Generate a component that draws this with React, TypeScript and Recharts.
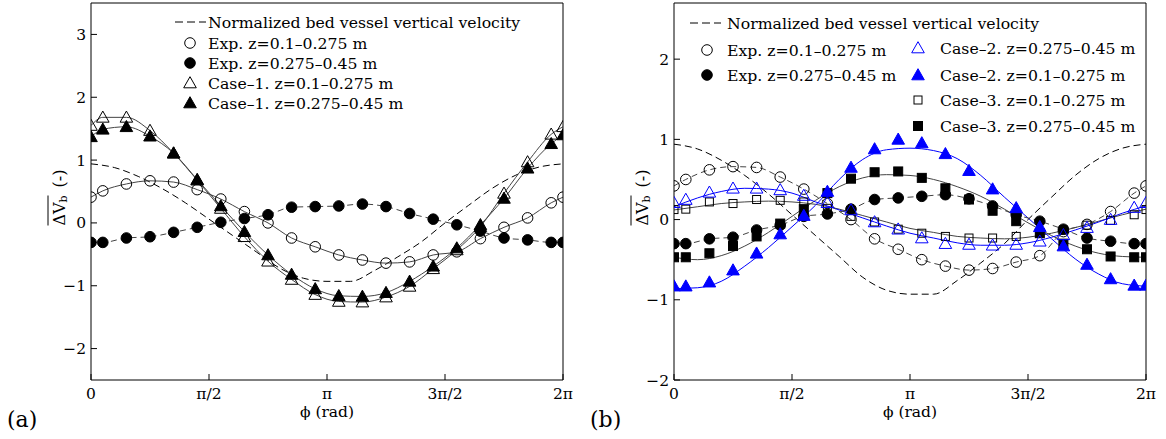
import React from 'react';
import { LineChart, Line, XAxis, YAxis, Legend } from 'recharts';

const PI = Math.PI;
const FONT = '"DejaVu Serif", serif';

// phases of the markers, in steps of pi/20
const markSteps = [0, 1, 3, 5, 7, 9, 11, 13, 15, 17, 19, 21, 23, 25, 27, 29, 31, 33, 35, 37, 39, 40];
// phases of the fitted curves, in steps of pi/10
const fitSteps = [0, 1, 2, 3, 4, 5, 6, 7, 8, 9, 10, 11, 12, 13, 14, 15, 16, 17, 18, 19, 20];

const phiTicks = [0, PI / 2, PI, (3 * PI) / 2, 2 * PI];
const phiTickLabels = ['0', 'π/2', 'π', '3π/2', '2π'];
const yTicksA = [-2, -1, 0, 1, 2, 3];
const yTicksB = [-2, -1, 0, 1, 2];

// normalized bed vessel vertical velocity (on the fit grid)
const normVel = [0.94, 0.88, 0.74, 0.55, 0.32, 0.06, -0.2, -0.46, -0.72, -0.88, -0.93, -0.93, -0.76, -0.54, -0.3, 0.0, 0.28, 0.55, 0.76, 0.89, 0.94];

// panel (a)
const expOpenA = [0.41, 0.51, 0.62, 0.67, 0.65, 0.53, 0.38, 0.18, 0.0, -0.24, -0.38, -0.51, -0.59, -0.64, -0.62, -0.51, -0.46, -0.25, -0.07, 0.08, 0.32, 0.41];
const expFilledA = [-0.31, -0.31, -0.24, -0.22, -0.15, -0.07, 0.01, 0.07, 0.13, 0.25, 0.26, 0.27, 0.3, 0.26, 0.15, 0.06, -0.03, -0.13, -0.24, -0.27, -0.31, -0.31];
const case1OpenA = [1.55, 1.68, 1.68, 1.47, 1.11, 0.68, 0.23, -0.22, -0.61, -0.9, -1.14, -1.25, -1.26, -1.18, -1.01, -0.73, -0.43, -0.06, 0.47, 0.97, 1.41, 1.53];
const case1FilledA = [1.37, 1.49, 1.53, 1.38, 1.11, 0.69, 0.27, -0.14, -0.51, -0.82, -1.05, -1.16, -1.17, -1.11, -0.93, -0.69, -0.4, -0.03, 0.39, 0.87, 1.26, 1.4];

// panel (b)
const expOpenB = [0.42, 0.5, 0.62, 0.66, 0.65, 0.53, 0.38, 0.2, 0.0, -0.24, -0.37, -0.5, -0.58, -0.63, -0.61, -0.53, -0.45, -0.15, -0.06, 0.1, 0.33, 0.42];
const expFilledB = [-0.3, -0.3, -0.24, -0.22, -0.13, -0.07, 0.04, 0.07, 0.13, 0.25, 0.27, 0.29, 0.31, 0.26, 0.17, 0.06, -0.02, -0.12, -0.23, -0.27, -0.3, -0.3];
const case2OpenB = [0.21, 0.25, 0.34, 0.39, 0.39, 0.37, 0.3, 0.21, 0.12, -0.03, -0.12, -0.23, -0.3, -0.31, -0.32, -0.31, -0.27, -0.19, -0.1, 0.0, 0.15, 0.21];
const case2FilledB = [-0.83, -0.83, -0.78, -0.63, -0.42, -0.18, 0.05, 0.35, 0.65, 0.88, 1.0, 0.955, 0.82, 0.61, 0.38, 0.146, -0.09, -0.33, -0.56, -0.74, -0.82, -0.82];
const case3OpenB = [0.125, 0.13, 0.22, 0.2, 0.25, 0.24, 0.22, 0.14, 0.04, -0.03, -0.12, -0.17, -0.21, -0.23, -0.23, -0.21, -0.17, -0.13, -0.07, -0.01, 0.06, 0.125];
const case3FilledB = [-0.47, -0.47, -0.42, -0.33, -0.21, -0.05, 0.13, 0.33, 0.51, 0.59, 0.6, 0.52, 0.39, 0.25, 0.11, -0.02, -0.17, -0.3, -0.37, -0.46, -0.47, -0.47];

const case2OpenFit = [0.16, 0.27, 0.35, 0.39, 0.38, 0.33, 0.22, 0.12, 0.02, -0.08, -0.17, -0.23, -0.29, -0.32, -0.32, -0.29, -0.22, -0.13, -0.03, 0.08, 0.17];
const case2FilledFit = [-0.86, -0.85, -0.77, -0.58, -0.35, -0.09, 0.18, 0.5, 0.75, 0.87, 0.89, 0.86, 0.76, 0.55, 0.28, 0.02, -0.24, -0.49, -0.68, -0.8, -0.83];
const case3OpenFit = [0.12, 0.16, 0.2, 0.22, 0.23, 0.22, 0.19, 0.13, 0.05, -0.03, -0.11, -0.16, -0.21, -0.23, -0.24, -0.22, -0.17, -0.1, -0.02, 0.06, 0.13];
const case3FilledFit = [-0.47, -0.5, -0.45, -0.33, -0.16, 0.04, 0.24, 0.41, 0.52, 0.56, 0.55, 0.5, 0.41, 0.29, 0.13, -0.04, -0.2, -0.33, -0.42, -0.46, -0.47];

const markPhi = markSteps.map((s) => (s * PI) / 20);
const fitPhi = fitSteps.map((s) => (s * PI) / 10);
const pts = (xs: number[], ys: number[]) => xs.map((x, i) => ({ x, y: ys[i] }));

const BLUE = '#0000ff';
const GREY = '#444';

type Shape = 'circle' | 'triangle' | 'square';

function Glyph({ shape, x, y, color, filled }: { shape: Shape; x: number; y: number; color: string; filled: boolean }) {
  const fill = filled ? color : 'none';
  if (shape === 'circle') {
    return <circle cx={x} cy={y} r={5.3} fill={fill} stroke={color} strokeWidth={1} />;
  }
  if (shape === 'triangle') {
    return (
      <polygon
        points={`${x},${y - 6.3} ${x - 6.3},${y + 4.8} ${x + 6.3},${y + 4.8}`}
        fill={fill}
        stroke={color}
        strokeWidth={1}
      />
    );
  }
  const s = filled ? 4.5 : 4;
  return <rect x={x - s} y={y - s} width={2 * s} height={2 * s} fill={fill} stroke={color} strokeWidth={1} />;
}

const marker = (shape: Shape, color: string, filled: boolean) => (p: any) => {
  const { cx, cy, index } = p;
  if (cx == null || cy == null) return <g key={`e${index}`} />;
  return <Glyph key={`m${index}`} shape={shape} x={cx} y={cy} color={color} filled={filled} />;
};

const tickLabel = (v: number) => {
  const i = phiTicks.findIndex((t) => Math.abs(t - v) < 1e-6);
  return i >= 0 ? phiTickLabels[i] : '';
};

function YLabel(props: any) {
  const vb = props.viewBox || { x: 0, y: 3, width: 91, height: 377 };
  const cx = 59;
  const cy = vb.y + vb.height / 2;
  return (
    <g transform={`translate(${cx},${cy}) rotate(-90)`}>
      <text x={-34} y={0} dominantBaseline="central" fontFamily={FONT} fontSize={16} fill="#000">
        ΔV
        <tspan fontSize={11} dy={4}>b</tspan>
      </text>
      <line x1={-34} x2={-4} y1={-11} y2={-11} stroke="#000" strokeWidth={1} />
      <text x={4} y={0} dominantBaseline="central" fontFamily={FONT} fontSize={16} fill="#000">
        (-)
      </text>
    </g>
  );
}

function XLabel(props: any) {
  const vb = props.viewBox || { x: 91, y: 380, width: 472, height: 59 };
  return (
    <g>
      <text x={vb.x + vb.width / 2} y={vb.y + 32} textAnchor="middle" dominantBaseline="central" fontFamily={FONT} fontSize={15.5} fill="#000">
        ϕ (rad)
      </text>
      <text x={7} y={vb.y + 39} dominantBaseline="central" fontFamily={FONT} fontSize={22} fill="#000">
        {props.tag}
      </text>
    </g>
  );
}

type Item = { label: string; x: number; y: number; shape?: Shape; filled?: boolean; color?: string; dash?: boolean; textX: number };

function LegendBox({ items, width, height }: { items: Item[]; width: number; height: number }) {
  return (
    <svg width={width} height={height} style={{ display: 'block' }}>
      {items.map((it, i) => (
        <g key={i}>
          {it.dash ? (
            <line x1={it.x - 15} x2={it.x + 16} y1={it.y} y2={it.y} stroke="#000" strokeDasharray="8 4" strokeWidth={1} />
          ) : (
            <Glyph shape={it.shape as Shape} x={it.x} y={it.y} color={it.color || '#000'} filled={!!it.filled} />
          )}
          <text x={it.textX} y={it.y} dominantBaseline="central" fontFamily={FONT} fontSize={15.7} fill="#000">
            {it.label}
          </text>
        </g>
      ))}
    </svg>
  );
}

const legendA: Item[] = [
  { label: 'Normalized bed vessel vertical velocity', x: 22, y: 14, dash: true, textX: 40 },
  { label: 'Exp. z=0.1–0.275 m', x: 22, y: 35, shape: 'circle', textX: 40 },
  { label: 'Exp. z=0.275–0.45 m', x: 22, y: 55, shape: 'circle', filled: true, textX: 40 },
  { label: 'Case–1. z=0.1–0.275 m', x: 22, y: 75, shape: 'triangle', textX: 40 },
  { label: 'Case–1. z=0.275–0.45 m', x: 22, y: 95, shape: 'triangle', filled: true, textX: 40 },
];

const legendB: Item[] = [
  { label: 'Normalized bed vessel vertical velocity', x: 25, y: 15, dash: true, textX: 47 },
  { label: 'Exp. z=0.1–0.275 m', x: 27, y: 42, shape: 'circle', textX: 47 },
  { label: 'Exp. z=0.275–0.45 m', x: 27, y: 67, shape: 'circle', filled: true, textX: 47 },
  { label: 'Case–2. z=0.275–0.45 m', x: 238, y: 40, shape: 'triangle', color: BLUE, textX: 260 },
  { label: 'Case–2. z=0.1–0.275 m', x: 238, y: 67, shape: 'triangle', color: BLUE, filled: true, textX: 260 },
  { label: 'Case–3. z=0.1–0.275 m', x: 238, y: 92, shape: 'square', textX: 260 },
  { label: 'Case–3. z=0.275–0.45 m', x: 238, y: 118, shape: 'square', filled: true, textX: 260 },
];

const tickStyle = { fill: '#000', fontSize: 15.5, fontFamily: FONT };

const W = 583;
const H = 439;
const margin = { top: 2, right: 19, bottom: 0, left: 0 };

function frame(yDomain: [number, number], yTicks: number[], tag: string) {
  return [
    <XAxis
      key="xb"
      xAxisId={0}
      type="number"
      dataKey="x"
      domain={[0, 2 * PI]}
      ticks={phiTicks}
      tickFormatter={tickLabel}
      allowDataOverflow
      height={59}
      tickSize={-6}
      tickMargin={14}
      tick={tickStyle}
      axisLine={{ stroke: '#000' }}
      tickLine={{ stroke: '#000' }}
      label={<XLabel tag={tag} />}
    />,
    <XAxis
      key="xt"
      xAxisId="top"
      orientation="top"
      type="number"
      dataKey="x"
      domain={[0, 2 * PI]}
      ticks={phiTicks}
      allowDataOverflow
      height={1}
      tickSize={-6}
      tick={false}
      axisLine={{ stroke: '#000' }}
      tickLine={{ stroke: '#000' }}
    />,
    <YAxis
      key="yl"
      yAxisId={0}
      type="number"
      domain={yDomain}
      ticks={yTicks}
      allowDataOverflow
      width={91}
      tickSize={-6}
      tickMargin={11}
      tick={tickStyle}
      tickFormatter={(v: number) => (v < 0 ? `−${Math.abs(v)}` : `${v}`)}
      axisLine={{ stroke: '#000' }}
      tickLine={{ stroke: '#000' }}
      label={<YLabel />}
    />,
    <YAxis
      key="yr"
      yAxisId="right"
      orientation="right"
      type="number"
      domain={yDomain}
      ticks={yTicks}
      allowDataOverflow
      width={1}
      tickSize={-6}
      tick={false}
      axisLine={{ stroke: '#000' }}
      tickLine={{ stroke: '#000' }}
    />,
  ];
}

const lineBase = { dataKey: 'y', activeDot: false as const, isAnimationActive: false, legendType: 'none' as const };

function PanelA() {
  return (
    <LineChart width={W} height={H} margin={margin}>
      {frame([-2.5, 3.5], yTicksA, '(a)')}
      <Line {...lineBase} data={pts(fitPhi, normVel)} type="monotone" stroke="#000" strokeWidth={1} strokeDasharray="7 4" dot={false} />
      <Line {...lineBase} data={pts(markPhi, expFilledA)} type="monotone" stroke={GREY} strokeWidth={1} strokeDasharray="6 4" dot={marker('circle', '#000', true)} />
      <Line {...lineBase} data={pts(markPhi, expOpenA)} type="monotone" stroke={GREY} strokeWidth={1} dot={marker('circle', '#000', false)} />
      <Line {...lineBase} data={pts(markPhi, case1OpenA)} type="monotone" stroke={GREY} strokeWidth={1} dot={marker('triangle', '#000', false)} />
      <Line {...lineBase} data={pts(markPhi, case1FilledA)} type="monotone" stroke={GREY} strokeWidth={1} dot={marker('triangle', '#000', true)} />
      <Legend
        verticalAlign="middle"
        align="center"
        layout="horizontal"
        wrapperStyle={{ left: 168, top: 8, width: 370, height: 110 }}
        content={() => <LegendBox items={legendA} width={370} height={110} />}
      />
    </LineChart>
  );
}

function PanelB() {
  return (
    <LineChart width={W} height={H} margin={margin}>
      {frame([-2, 2.7], yTicksB, '(b)')}
      <Line {...lineBase} data={pts(fitPhi, normVel)} type="monotone" stroke="#000" strokeWidth={1} strokeDasharray="7 4" dot={false} />
      <Line {...lineBase} data={pts(fitPhi, case3OpenFit)} type="monotone" stroke={GREY} strokeWidth={1} dot={false} />
      <Line {...lineBase} data={pts(fitPhi, case3FilledFit)} type="monotone" stroke={GREY} strokeWidth={1} dot={false} />
      <Line {...lineBase} data={pts(fitPhi, case2OpenFit)} type="monotone" stroke={BLUE} strokeWidth={1} dot={false} />
      <Line {...lineBase} data={pts(fitPhi, case2FilledFit)} type="monotone" stroke={BLUE} strokeWidth={1} dot={false} />
      <Line {...lineBase} data={pts(markPhi, expOpenB)} type="monotone" stroke={GREY} strokeWidth={1} strokeDasharray="6 4" dot={marker('circle', '#000', false)} />
      <Line {...lineBase} data={pts(markPhi, expFilledB)} type="monotone" stroke={GREY} strokeWidth={1} strokeDasharray="6 4" dot={marker('circle', '#000', true)} />
      <Line {...lineBase} data={pts(markPhi, case3OpenB)} type="monotone" stroke="none" dot={marker('square', '#000', false)} />
      <Line {...lineBase} data={pts(markPhi, case3FilledB)} type="monotone" stroke="none" dot={marker('square', '#000', true)} />
      <Line {...lineBase} data={pts(markPhi, case2OpenB)} type="monotone" stroke="none" dot={marker('triangle', BLUE, false)} />
      <Line {...lineBase} data={pts(markPhi, case2FilledB)} type="monotone" stroke="none" dot={marker('triangle', BLUE, true)} />
      <Legend
        verticalAlign="middle"
        align="center"
        layout="horizontal"
        wrapperStyle={{ left: 97, top: 8, width: 482, height: 130 }}
        content={() => <LegendBox items={legendB} width={482} height={130} />}
      />
    </LineChart>
  );
}

export default function App() {
  return (
    <div style={{ position: 'absolute', left: 0, top: 0, width: 1166, height: 439, background: '#fff', overflow: 'hidden' }}>
      <div style={{ position: 'absolute', left: 0, top: 0 }}>
        <PanelA />
      </div>
      <div style={{ position: 'absolute', left: W, top: 0 }}>
        <PanelB />
      </div>
    </div>
  );
}
